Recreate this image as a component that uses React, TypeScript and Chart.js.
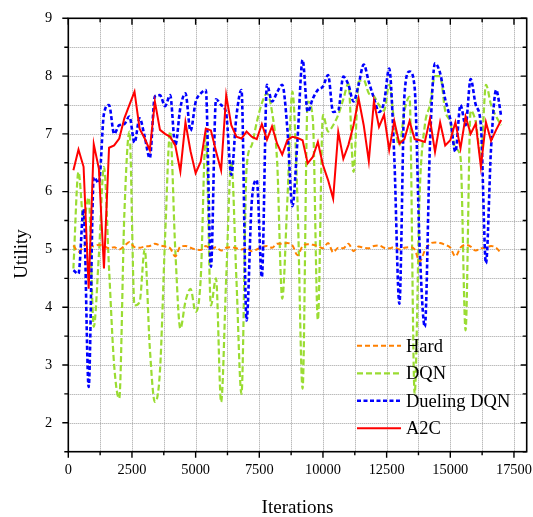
import React, { useEffect, useRef } from 'react';
import { Chart, registerables } from 'chart.js';

Chart.register(...registerables);

// ---------- data ----------
const iterations = [
  200, 400, 600, 800, 1000, 1200, 1400, 1600, 1800, 2000,
  2200, 2400, 2600, 2800, 3000, 3200, 3400, 3600, 3800, 4000,
  4200, 4400, 4600, 4800, 5000, 5200, 5400, 5600, 5800, 6000,
  6200, 6400, 6600, 6800, 7000, 7200, 7400, 7600, 7800, 8000,
  8200, 8400, 8600, 8800, 9000, 9200, 9400, 9600, 9800, 10000,
  10200, 10400, 10600, 10800, 11000, 11200, 11400, 11600, 11800, 12000,
  12200, 12400, 12600, 12800, 13000, 13200, 13400, 13600, 13800, 14000,
  14200, 14400, 14600, 14800, 15000, 15200, 15400, 15600, 15800, 16000,
  16200, 16400, 16600, 16800, 17000,
];

const hard = [
  5.07, 4.96, 5.05, 5.12, 5.05, 5.08, 5.06, 5.02, 5.04, 5.0,
  5.06, 5.13, 5.04, 5.03, 5.05, 5.06, 5.1, 5.07, 5.05, 5.02,
  4.88, 5.05, 5.06, 5.03, 5.0, 4.99, 5.06, 5.01, 5.04, 4.98,
  5.03, 5.04, 5.02, 5.0, 5.03, 4.97, 5.0, 5.04, 5.06, 5.03,
  5.1, 5.1, 5.11, 5.07, 4.9, 5.06, 5.09, 5.08, 5.06, 5.02,
  5.11, 4.95, 5.03, 5.02, 5.1, 4.97, 5.05, 5.03, 5.02, 5.06,
  5.07, 5.03, 5.02, 5.04, 5.0, 5.03, 5.04, 5.0, 4.79, 4.98,
  5.1, 5.12, 5.11, 5.08, 5.03, 4.88, 5.03, 5.08, 5.05, 4.98,
  5.02, 5.03, 5.06, 5.03, 4.93,
];

const dqn = [
  4.67, 6.34, 5.5, 5.9, 3.66, 4.9, 6.43, 4.67, 3.0, 2.42,
  5.6, 7.04, 4.03, 4.09, 5.0, 3.3, 2.36, 2.9, 5.2, 7.04,
  5.0, 3.63, 4.1, 4.32, 3.92, 4.5, 7.01, 4.03, 4.5, 2.36,
  4.5, 6.52, 4.5, 2.5, 6.4, 6.8, 7.2, 7.53, 7.7, 7.38,
  6.52, 4.15, 5.83, 7.73, 5.83, 2.59, 7.56, 7.27, 3.78, 7.33,
  7.04, 7.15, 7.33, 7.6, 7.87, 6.34, 7.9, 7.93, 7.7, 7.65,
  7.5, 7.4, 7.85, 7.2, 6.8, 7.4, 7.64, 2.5, 6.0, 7.15,
  7.5, 8.0, 8.0, 7.4, 7.2, 6.75, 6.6, 3.6, 7.4, 7.2,
  6.6, 7.85, 7.5, 7.3, 7.15,
];

const duelingDqn = [
  4.64, 4.58, 5.7, 2.62, 6.25, 6.15, 7.35, 7.5, 7.0, 7.15,
  7.17, 7.3, 6.85, 7.27, 6.95, 6.58, 7.65, 7.67, 7.48, 7.67,
  6.8, 7.45, 7.7, 7.05, 7.55, 7.7, 7.76, 4.7, 7.6, 7.5,
  7.35, 6.29, 7.3, 7.76, 3.77, 5.8, 6.2, 4.52, 7.85, 7.56,
  7.72, 7.85, 7.1, 5.75, 6.9, 8.28, 7.38, 7.61, 7.76, 7.82,
  8.02, 7.38, 7.41, 7.99, 7.85, 7.56, 7.85, 8.2, 7.9, 7.62,
  7.38, 7.55, 8.13, 6.6, 4.06, 7.67, 8.08, 7.8, 5.0, 3.66,
  6.8, 8.22, 8.05, 7.6, 7.25, 6.69, 7.5, 7.15, 7.95, 7.5,
  7.15, 4.76, 6.75, 7.76, 7.3,
];

const a2c = [
  6.37, 6.73, 6.43, 4.32, 6.82, 6.4, 4.67, 6.76, 6.8, 6.92,
  7.27, 7.5, 7.73, 7.09, 6.92, 6.72, 7.56, 7.07, 7.0, 6.95,
  6.8, 6.35, 7.2, 6.7, 6.32, 6.52, 7.09, 7.06, 6.7, 6.37,
  7.67, 7.15, 6.95, 6.92, 7.04, 6.95, 6.91, 7.17, 6.9, 7.13,
  6.83, 6.64, 6.89, 6.95, 6.93, 6.89, 6.49, 6.6, 6.86, 6.46,
  6.2, 5.88, 7.03, 6.57, 6.81, 7.15, 7.61, 7.15, 6.53, 7.56,
  7.12, 7.33, 6.72, 7.22, 6.83, 6.91, 7.22, 6.91, 6.89, 6.86,
  7.26, 6.69, 7.2, 6.8, 6.89, 7.2, 6.75, 7.3, 7.0, 7.18,
  6.43, 7.2, 6.88, 7.07, 7.24,
];

const seriesNames = ['Hard', 'DQN', 'Dueling DQN', 'A2C'];
const xTickValues = [0, 1250, 2500, 3750, 5000, 6250, 7500, 8750, 10000, 11250, 12500, 13750, 15000, 16250, 17500];
const xLabelValues = [0, 2500, 5000, 7500, 10000, 12500, 15000, 17500];
const yTickValues = [1.5, 2, 2.5, 3, 3.5, 4, 4.5, 5, 5.5, 6, 6.5, 7, 7.5, 8, 8.5, 9];
const yLabelValues = [2, 3, 4, 5, 6, 7, 8, 9];
const xTitle = 'Iterations';
const yTitle = 'Utility';

// ---------- styling ----------
const W = 533;
const H = 517;
const FONT = "'Liberation Serif', 'Times New Roman', serif";
const styles = [
  { color: '#FF8000', dash: [5, 3], width: 2, smooth: true },
  { color: '#9ADC32', dash: [6, 3], width: 2.2, smooth: true },
  { color: '#0000FF', dash: [4, 2.5], width: 2.6, smooth: true },
  { color: '#FF0000', dash: [] as number[], width: 2, smooth: false },
];

const toPoints = (vals: number[]) => iterations.map((x, i) => ({ x, y: vals[i] }));

const decorPlugin = {
  id: 'decor',
  beforeDatasetsDraw(chart: any) {
    const { ctx, chartArea: a, scales } = chart;
    const xs = scales.x;
    const ys = scales.y;
    ctx.save();
    ctx.strokeStyle = '#a0a0a0';
    ctx.lineWidth = 1;
    ctx.setLineDash([1, 1]);
    for (const v of xTickValues) {
      if (v <= 0) continue;
      const px = Math.round(xs.getPixelForValue(v)) + 0.5;
      ctx.beginPath();
      ctx.moveTo(px, a.top);
      ctx.lineTo(px, a.bottom);
      ctx.stroke();
    }
    for (const v of yTickValues) {
      if (v <= 1.5 || v >= 9) continue;
      const py = Math.round(ys.getPixelForValue(v)) + 0.5;
      ctx.beginPath();
      ctx.moveTo(a.left, py);
      ctx.lineTo(a.right, py);
      ctx.stroke();
    }
    ctx.restore();
  },
  afterDraw(chart: any) {
    const { ctx, chartArea: a, scales } = chart;
    const xs = scales.x;
    const ys = scales.y;
    ctx.save();
    ctx.setLineDash([]);
    ctx.strokeStyle = '#000';
    ctx.lineWidth = 1.6;
    ctx.strokeRect(a.left, a.top, a.right - a.left, a.bottom - a.top);
    ctx.lineWidth = 1.4;
    for (const v of xTickValues) {
      const px = xs.getPixelForValue(v);
      const major = xLabelValues.includes(v);
      const len = major ? 6 : 3.5;
      ctx.beginPath();
      ctx.moveTo(px, a.bottom);
      ctx.lineTo(px, a.bottom + len);
      ctx.moveTo(px, a.top);
      ctx.lineTo(px, a.top + len + 0.5);
      ctx.stroke();
    }
    for (const v of yTickValues) {
      const py = ys.getPixelForValue(v);
      const major = yLabelValues.includes(v);
      const len = major ? 6 : 4;
      ctx.beginPath();
      ctx.moveTo(a.left, py);
      ctx.lineTo(a.left - len, py);
      ctx.moveTo(a.right, py);
      ctx.lineTo(a.right - len, py);
      ctx.stroke();
    }

    // legend
    const lx0 = 357;
    const lx1 = 401;
    const rows = [345.7, 373.3, 400.7, 428.3];
    ctx.font = `18.5px ${FONT}`;
    ctx.fillStyle = '#000';
    ctx.textBaseline = 'middle';
    ctx.textAlign = 'left';
    seriesNames.forEach((name, i) => {
      const st = styles[i];
      ctx.strokeStyle = st.color;
      ctx.lineWidth = st.width;
      ctx.setLineDash(st.dash);
      ctx.beginPath();
      ctx.moveTo(lx0, rows[i]);
      ctx.lineTo(lx1, rows[i]);
      ctx.stroke();
      ctx.setLineDash([]);
      ctx.fillText(name, 406, rows[i] + 1);
    });

    // axis titles
    ctx.font = `19px ${FONT}`;
    ctx.textAlign = 'center';
    ctx.textBaseline = 'middle';
    ctx.fillText(xTitle, (a.left + a.right) / 2, 508);
    ctx.translate(22, 254);
    ctx.rotate(-Math.PI / 2);
    ctx.fillText(yTitle, 0, 0);
    ctx.restore();
  },
};

export default function App() {
  const ref = useRef<HTMLCanvasElement | null>(null);

  useEffect(() => {
    if (!ref.current) return;
    const datasets = [hard, dqn, duelingDqn, a2c].map((vals, i) => ({
      label: seriesNames[i],
      data: toPoints(vals),
      borderColor: styles[i].color,
      backgroundColor: styles[i].color,
      borderWidth: styles[i].width,
      borderDash: styles[i].dash,
      pointRadius: 0,
      fill: false,
      tension: 0,
      cubicInterpolationMode: styles[i].smooth ? ('monotone' as const) : ('default' as const),
      order: [2, 3, 1, 0][i],
    }));

    const chart = new Chart(ref.current, {
      type: 'line',
      data: { datasets },
      options: {
        responsive: false,
        animation: false,
        devicePixelRatio: 1,
        layout: { padding: { top: 18.3, right: 6.3, left: 0, bottom: 0 } },
        plugins: { legend: { display: false }, tooltip: { enabled: false } },
        scales: {
          x: {
            type: 'linear',
            min: 0,
            max: 18000,
            grid: { display: false, drawTicks: false },
            border: { display: false },
            afterBuildTicks: (s: any) => {
              s.ticks = xTickValues.map((v) => ({ value: v }));
            },
            afterFit: (s: any) => {
              s.height = 65.3;
              s.paddingLeft = 0;
              s.paddingRight = 0;
            },
            ticks: {
              autoSkip: false,
              maxRotation: 0,
              minRotation: 0,
              padding: 10,
              color: '#000',
              font: { family: FONT, size: 14.4 },
              callback: (v: any) => (xLabelValues.includes(Number(v)) ? String(v) : ''),
            },
          },
          y: {
            type: 'linear',
            min: 1.5,
            max: 9,
            grid: { display: false, drawTicks: false },
            border: { display: false },
            afterBuildTicks: (s: any) => {
              s.ticks = yTickValues.map((v) => ({ value: v }));
            },
            afterFit: (s: any) => {
              s.width = 68.3;
              s.paddingTop = 0;
              s.paddingBottom = 0;
            },
            ticks: {
              autoSkip: false,
              padding: 16,
              color: '#000',
              font: { family: FONT, size: 14.4 },
              callback: (v: any) => (yLabelValues.includes(Number(v)) ? String(v) : ''),
            },
          },
        },
      },
      plugins: [decorPlugin],
    });
    return () => chart.destroy();
  }, []);

  return (
    <div style={{ position: 'absolute', left: 0, top: 0, width: W, height: H, background: '#fff' }}>
      <canvas ref={ref} width={W} height={H} style={{ display: 'block', width: W, height: H }} />
    </div>
  );
}
